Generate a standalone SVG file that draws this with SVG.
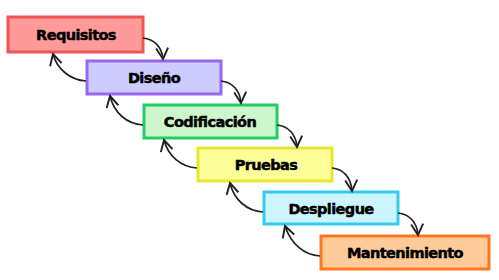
<svg xmlns="http://www.w3.org/2000/svg" width="499" height="280" viewBox="0 0 499 280">
<style>
rect{stroke-width:3}
text{font-family:"DejaVu Sans",Verdana,sans-serif;font-weight:bold;font-size:14.5px;letter-spacing:-0.6px;text-anchor:middle;fill:#000;stroke:#000;stroke-width:0.5}
.c path{fill:none;stroke:#222;stroke-width:1.7}
</style>
<defs>
<marker id="ah" viewBox="0 0 14 14" refX="12" refY="7" markerWidth="14" markerHeight="14" markerUnits="userSpaceOnUse" orient="auto">
<path d="M1,1 L12,7 L1,13" fill="none" stroke="#222" stroke-width="1.9"/>
</marker>
</defs>
<rect width="499" height="280" fill="#fff" stroke="none"/>
<g id="requisitos"><rect x="8" y="17" width="135" height="35" fill="#FF9A9A" stroke="#EE5555"/><text x="76" y="40">Requisitos</text></g>
<g id="diseno"><rect x="87" y="61" width="134" height="33" fill="#CCCCFF" stroke="#9966EE"/><text x="154" y="83">Diseño</text></g>
<g id="codificacion"><rect x="144" y="105" width="133" height="33" fill="#CCF7CC" stroke="#22CC66"/><text x="210" y="127">Codificación</text></g>
<g id="pruebas"><rect x="198" y="148" width="134" height="33" fill="#FFFF99" stroke="#E6E633"/><text x="266" y="170">Pruebas</text></g>
<g id="despliegue"><rect x="264" y="192" width="134" height="32" fill="#CCF5FF" stroke="#33CCEE"/><text x="331" y="214">Despliegue</text></g>
<g id="mantenimiento"><rect x="321" y="236" width="168" height="33" fill="#FFCC99" stroke="#FF7722"/><text x="405" y="258">Mantenimiento</text></g>
<g id="connectors" class="c">
<path d="M143,38 C154,39 162,47 163,59" marker-end="url(#ah)"/>
<path d="M221,81 C232,82 240,90 241,103" marker-end="url(#ah)"/>
<path d="M277,125 C288,126 296,134 297,147" marker-end="url(#ah)"/>
<path d="M332,168 C343,169 351,177 352,191" marker-end="url(#ah)"/>
<path d="M398,213 C409,214 417,222 418,235" marker-end="url(#ah)"/>
<path d="M86,81 C70,80 57,69 53,54" marker-end="url(#ah)"/>
<path d="M143,125 C127,124 114,113 110,96" marker-end="url(#ah)"/>
<path d="M197,168 C181,167 168,156 164,140" marker-end="url(#ah)"/>
<path d="M263,212 C247,211 234,200 230,183" marker-end="url(#ah)"/>
<path d="M320,256 C304,255 291,244 285,226" marker-end="url(#ah)"/>
</g>
</svg>
